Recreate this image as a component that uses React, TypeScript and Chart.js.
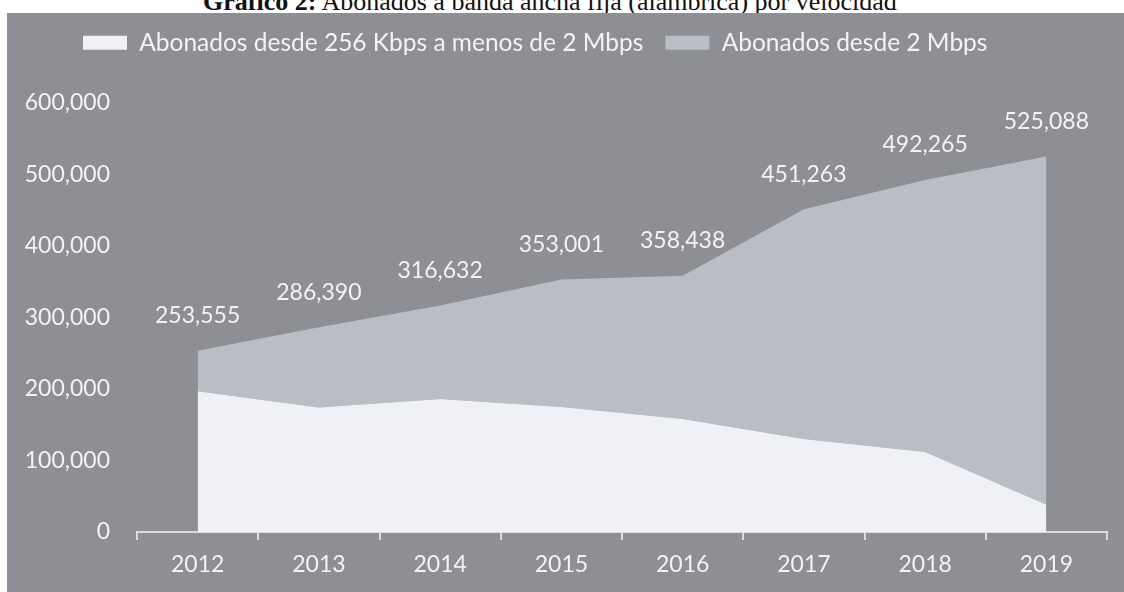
import React, { useEffect, useRef } from "react";
import { Chart, registerables } from "chart.js";

Chart.register(...registerables);

const years = ["2012", "2013", "2014", "2015", "2016", "2017", "2018", "2019"];
const seriesLowNames = "Abonados desde 256 Kbps a menos de 2 Mbps";
const seriesHighNames = "Abonados desde 2 Mbps";
// Subscribers 256 Kbps to < 2 Mbps
const lowSpeed = [197000, 174000, 186000, 175000, 158000, 130000, 112000, 38000];
// Subscribers from 2 Mbps (total minus low speed, estimated)
const highSpeed = [56555, 112390, 130632, 178001, 200438, 321263, 380265, 487088];
// Totals shown as labels
const totals = [253555, 286390, 316632, 353001, 358438, 451263, 492265, 525088];
const yTicks = [0, 100000, 200000, 300000, 400000, 500000, 600000];

const PANEL = "#8e8f94";
const LIGHT = "#babdc4";
const WHITE = "#eff1f6";
const TEXT = "#f3f3f5";
const FONT = "Lato, 'Open Sans', sans-serif";

export default function App() {
  const ref = useRef<HTMLCanvasElement | null>(null);

  useEffect(() => {
    if (!ref.current) return;
    const fmt = (v: number) => v.toLocaleString("en-US");

    const legendPlace = {
      id: "legendPlace",
      beforeLayout(chart: any) {
        const lg = chart.legend;
        if (lg && !lg._patched) {
          const orig = lg.fit.bind(lg);
          lg.fit = () => {
            orig();
            lg.height = 90;
          };
          lg._patched = true;
        }
      },
      afterLayout(chart: any) {
        const lg = chart.legend;
        if (lg) {
          lg.left = 54;
          lg.top = -4.5;
        }
      },
    };

    const totalLabels = {
      id: "totalLabels",
      afterDatasetsDraw(chart: any) {
        const ctx = chart.ctx;
        const meta = chart.getDatasetMeta(1);
        ctx.save();
        ctx.font = `23px ${FONT}`;
        ctx.fillStyle = TEXT;
        ctx.textAlign = "center";
        ctx.textBaseline = "middle";
        meta.data.forEach((pt: any, i: number) => {
          ctx.fillText(fmt(totals[i]), pt.x, pt.y - 35);
        });
        ctx.restore();
      },
    };

    const chart = new Chart(ref.current, {
      type: "line",
      data: {
        labels: years,
        datasets: [
          {
            label: seriesLowNames,
            data: lowSpeed,
            backgroundColor: WHITE,
            borderColor: WHITE,
            borderWidth: 0,
            pointRadius: 0,
            fill: "origin",
            tension: 0,
          },
          {
            label: seriesHighNames,
            data: highSpeed,
            backgroundColor: LIGHT,
            borderColor: LIGHT,
            borderWidth: 0,
            pointRadius: 0,
            fill: "-1",
            tension: 0,
          },
        ],
      },
      options: {
        animation: false,
        responsive: true,
        maintainAspectRatio: false,
        layout: { padding: { left: 0, right: 17, top: 0, bottom: 0 } },
        plugins: {
          legend: {
            display: true,
            position: "top",
            align: "start",
            labels: {
              color: TEXT,
              font: { family: FONT, size: 24.5 },
              boxWidth: 44,
              boxHeight: 14,
              padding: 22,
            },
          },
          tooltip: { enabled: false },
        },
        scales: {
          x: {
            offset: true,
            grid: {
              display: true,
              offset: true,
              drawOnChartArea: false,
              drawTicks: true,
              tickLength: 8,
              color: "#dcdcdc",
              lineWidth: 2,
            },
            border: { display: true, color: "#dcdcdc", width: 2 },
            ticks: {
              color: TEXT,
              font: { family: FONT, size: 23 },
              padding: 11,
              maxRotation: 0,
            },
            afterFit(scale: any) {
              scale.height = 60;
            },
          },
          y: {
            stacked: true,
            min: 0,
            max: 600000,
            afterBuildTicks(scale: any) {
              scale.ticks = yTicks.map((v) => ({ value: v }));
            },
            grid: { display: false, drawTicks: false },
            border: { display: false },
            ticks: {
              color: TEXT,
              font: { family: FONT, size: 23 },
              padding: 27,
              callback: (v: any) => fmt(Number(v)),
            },
            afterFit(scale: any) {
              scale.width = 130;
            },
          },
        },
      },
      plugins: [legendPlace, totalLabels],
    });
    return () => chart.destroy();
  }, []);

  return (
    <div
      style={{
        position: "absolute",
        left: 0,
        top: 0,
        width: 1124,
        height: 592,
        background: "#ffffff",
        overflow: "hidden",
      }}
    >
      <div
        style={{
          position: "absolute",
          left: 203,
          top: -11,
          whiteSpace: "nowrap",
          fontFamily: "'Liberation Serif', 'Times New Roman', serif",
          fontSize: 26,
          lineHeight: "26px",
          color: "#111",
        }}
      >
        <b>Gráfico 2:</b> Abonados a banda ancha fija (alámbrica) por velocidad
      </div>
      <div
        style={{
          position: "absolute",
          left: 7,
          top: 13,
          width: 1117,
          height: 579,
          background: PANEL,
        }}
      >
        <canvas ref={ref} />
      </div>
    </div>
  );
}
